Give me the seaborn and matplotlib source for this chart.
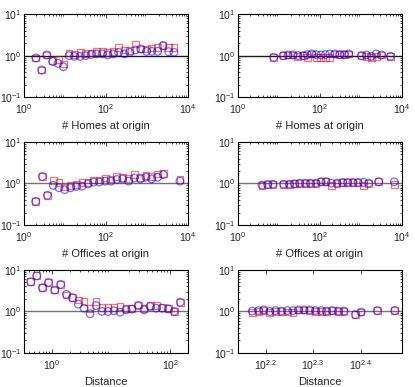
import numpy as np
import matplotlib
matplotlib.use('Agg')
import matplotlib.pyplot as plt
import matplotlib.ticker as mticker
import seaborn as sns

sns.set_style('ticks')
plt.rcParams['font.family'] = ['Liberation Sans', 'DejaVu Sans']
plt.rcParams['mathtext.fontset'] = 'custom'
plt.rcParams['mathtext.rm'] = 'Liberation Sans'
plt.rcParams['mathtext.it'] = 'Liberation Sans'
plt.rcParams['xtick.direction'] = 'in'
plt.rcParams['ytick.direction'] = 'in'

# ---- data ----
# top-left: homes at origin
homes_l_x = [1.95, 2.7, 3.6, 5.0, 6.8, 9.1, 12.6, 17, 23.4, 31.6, 43.6, 59, 81, 110, 151,
             204, 282, 380, 525, 708, 977, 1318, 1820, 2455, 3388, 4571]
homes_l_sq = [0.88, 0.45, 1.04, 0.76, 0.79, 0.63, 1.16, 1.06, 1.2, 1.14, 1.16, 1.27, 1.27,
              1.2, 1.27, 1.58, 1.37, 1.32, 1.9, 1.45, 1.45, 1.53, 1.58, 1.75, 1.58, 1.58]
homes_l_ci = [0.88, 0.45, 1.04, 0.72, 0.65, 0.54, 1.0, 0.96, 0.96, 1.0, 1.06, 1.1, 1.1,
              1.04, 1.1, 1.2, 1.1, 1.2, 1.37, 1.45, 1.27, 1.27, 1.27, 1.75, 1.25, 1.2]

# top-right
homes_r_x = [7.4, 12.6, 16.6, 21.9, 28.8, 38.9, 49, 63, 81, 105, 135, 174, 229, 302, 389,
             501, 1023, 1349, 1778, 2344, 3162, 5248]
homes_r_sq = [0.91, 1.0, 1.04, 1.04, 0.95, 1.0, 0.91, 1.1, 0.91, 0.91, 0.91, 0.91, 1.1,
              1.06, 1.06, 1.1, 1.0, 0.96, 0.91, 0.95, 1.04, 0.96]
homes_r_ci = [0.91, 1.0, 1.04, 1.04, 1.0, 1.0, 1.06, 1.1, 1.06, 1.04, 1.06, 1.1, 1.1,
              1.06, 1.06, 1.1, 1.0, 1.04, 0.96, 1.1, 1.04, 0.96]

# middle-left: offices at origin
offices_l_x = [1.93, 2.8, 3.72, 5.19, 7.14, 9.82, 13.7, 18.9, 26.0, 36.4, 50.0, 68.7, 96.4,
               132, 185, 255, 357, 491, 687, 946, 1300, 1820, 2500, 6383]
offices_l_sq = [0.37, 1.47, 0.52, 1.18, 1.08, 0.82, 0.9, 0.93, 1.08, 1.08, 1.22, 1.22,
                1.36, 1.29, 1.5, 1.42, 1.34, 1.64, 1.42, 1.55, 1.5, 1.7, 1.76, 1.25]
offices_l_ci = [0.37, 1.47, 0.52, 0.9, 0.79, 0.71, 0.79, 0.85, 0.86, 0.98, 1.08, 1.08,
                1.14, 1.14, 1.25, 1.29, 1.14, 1.36, 1.29, 1.42, 1.29, 1.42, 1.64, 1.14]

# middle-right
offices_r_x = [3.85, 5.3, 7.14, 13.0, 17.9, 23.7, 31.9, 43.9, 58.1, 79.8, 106, 140, 189,
               260, 357, 473, 638, 846, 1161, 1538, 2698, 6501]
offices_r_sq = [0.91, 0.95, 0.96, 0.96, 0.96, 0.98, 1.02, 1.02, 1.02, 1.02, 1.1, 1.1, 0.91,
                1.02, 1.06, 1.06, 1.06, 1.06, 0.91, 1.02, 1.1, 0.96]
offices_r_ci = [0.91, 0.95, 0.96, 0.96, 0.96, 0.98, 1.02, 1.02, 1.02, 1.02, 1.1, 1.1, 1.02,
                1.02, 1.06, 1.06, 1.06, 1.06, 1.06, 1.02, 1.1, 1.1]

# bottom-left: distance
dist_l_x = [0.435, 0.55, 0.686, 0.867, 1.11, 1.40, 1.75, 2.21, 2.79, 3.48, 4.40, 5.57, 7.03,
            8.89, 11.2, 14.2, 17.9, 22.4, 28.7, 36.2, 45.8, 57.9, 73.1, 92.5, 117, 148]
dist_l_sq = [5.18, 7.2, 3.73, 4.99, 3.28, 4.48, 2.5, 2.15, 1.9, 1.73, 1.16, 1.73, 1.24, 1.24,
             1.24, 1.32, 1.16, 1.2, 1.44, 1.2, 1.39, 1.39, 1.24, 1.16, 1.0, 1.67]
dist_l_ci = [5.18, 7.2, 3.73, 4.99, 3.28, 4.48, 2.59, 2.15, 1.5, 1.2, 0.88, 1.39, 1.0, 1.0,
             1.04, 0.96, 1.1, 1.14, 1.39, 1.1, 1.32, 1.2, 1.2, 1.16, 1.0, 1.67]

# bottom-right
dist_r_x = [148.6, 153.1, 157.0, 161.8, 166.3, 171.0, 176.2, 181.1, 185.8, 191.0, 196.3,
            201.8, 207.5, 212.8, 218.8, 225.4, 231.7, 244.9, 251.8, 272.3, 296.5]
dist_r_sq = [0.93, 1.0, 1.05, 0.93, 1.02, 1.0, 0.97, 0.93, 1.09, 1.09, 1.05, 1.02, 1.02,
             1.0, 1.05, 1.02, 1.02, 0.84, 0.97, 1.05, 1.05]
dist_r_ci = [1.02, 1.05, 1.09, 1.0, 1.05, 1.02, 1.05, 1.05, 1.09, 1.09, 1.09, 1.05, 1.05,
             1.02, 1.05, 1.02, 1.02, 0.84, 0.97, 1.05, 1.05]

panels = [
    (homes_l_x, homes_l_sq, homes_l_ci, '# Homes at origin', (1, 1e4), '0.1'),
    (homes_r_x, homes_r_sq, homes_r_ci, '# Homes at origin', (1, 1e4), '0.1'),
    (offices_l_x, offices_l_sq, offices_l_ci, '# Offices at origin', (1, 1e4), '0.45'),
    (offices_r_x, offices_r_sq, offices_r_ci, '# Offices at origin', (1, 1e4), '0.45'),
    (dist_l_x, dist_l_sq, dist_l_ci, 'Distance', (0.335, 200), '0.45'),
    (dist_r_x, dist_r_sq, dist_r_ci, 'Distance', (10 ** 2.142, 10 ** 2.487), '0.45'),
]

fig = plt.figure(figsize=(4.15, 3.87), dpi=100)
lefts = [0.0578, 0.5735]
bottoms = [0.749, 0.4186, 0.0879]

for k, (x, sq, ci, label, xlim, lc) in enumerate(panels):
    ax = fig.add_axes([lefts[k % 2], bottoms[k // 2], 0.395, 0.2145])
    ax.set_xscale('log')
    ax.set_yscale('log')
    ax.axhline(1, color=lc, lw=1, zorder=1)
    sns.scatterplot(x=x, y=sq, ax=ax, marker='s', s=24, facecolors='none',
                    edgecolor='red', linewidth=0.9, alpha=0.55, zorder=2)
    sns.scatterplot(x=x, y=ci, ax=ax, marker='o', s=30, facecolors='none',
                    edgecolor='blue', linewidth=0.9, alpha=0.55, zorder=3)
    ax.set_xlim(*xlim)
    ax.set_ylim(0.1, 10)
    ax.set_xlabel(label, fontsize=8, labelpad=3)
    ax.yaxis.set_major_locator(mticker.FixedLocator([0.1, 1, 10]))
    ax.yaxis.set_minor_locator(mticker.LogLocator(base=10, subs=np.arange(2, 10)))
    ax.yaxis.set_minor_formatter(mticker.NullFormatter())
    if k < 4:
        ax.xaxis.set_major_locator(mticker.FixedLocator([1, 100, 1e4]))
        ax.xaxis.set_minor_locator(mticker.LogLocator(base=10, subs=np.arange(2, 10), numticks=20))
    elif k == 4:
        ax.xaxis.set_major_locator(mticker.FixedLocator([1, 100]))
        ax.xaxis.set_minor_locator(mticker.LogLocator(base=10, subs=np.arange(2, 10), numticks=20))
    else:
        ax.xaxis.set_major_locator(mticker.FixedLocator([10 ** 2.2, 10 ** 2.3, 10 ** 2.4]))
        ax.xaxis.set_major_formatter(mticker.FixedFormatter(
            [r'$10^{2.2}$', r'$10^{2.3}$', r'$10^{2.4}$']))
        ax.xaxis.set_minor_locator(mticker.NullLocator())
    ax.xaxis.set_minor_formatter(mticker.NullFormatter())
    ax.tick_params(which='both', top=True, right=True, labelsize=7.5, width=0.6)
    ax.tick_params(axis='x', which='major', pad=4)
    ax.tick_params(axis='y', which='major', pad=2)
    ax.tick_params(which='major', length=3)
    ax.tick_params(which='minor', length=1.5)
    for sp in ax.spines.values():
        sp.set_linewidth(0.8)
        sp.set_color('black')

fig.savefig('out.png', dpi=100)
